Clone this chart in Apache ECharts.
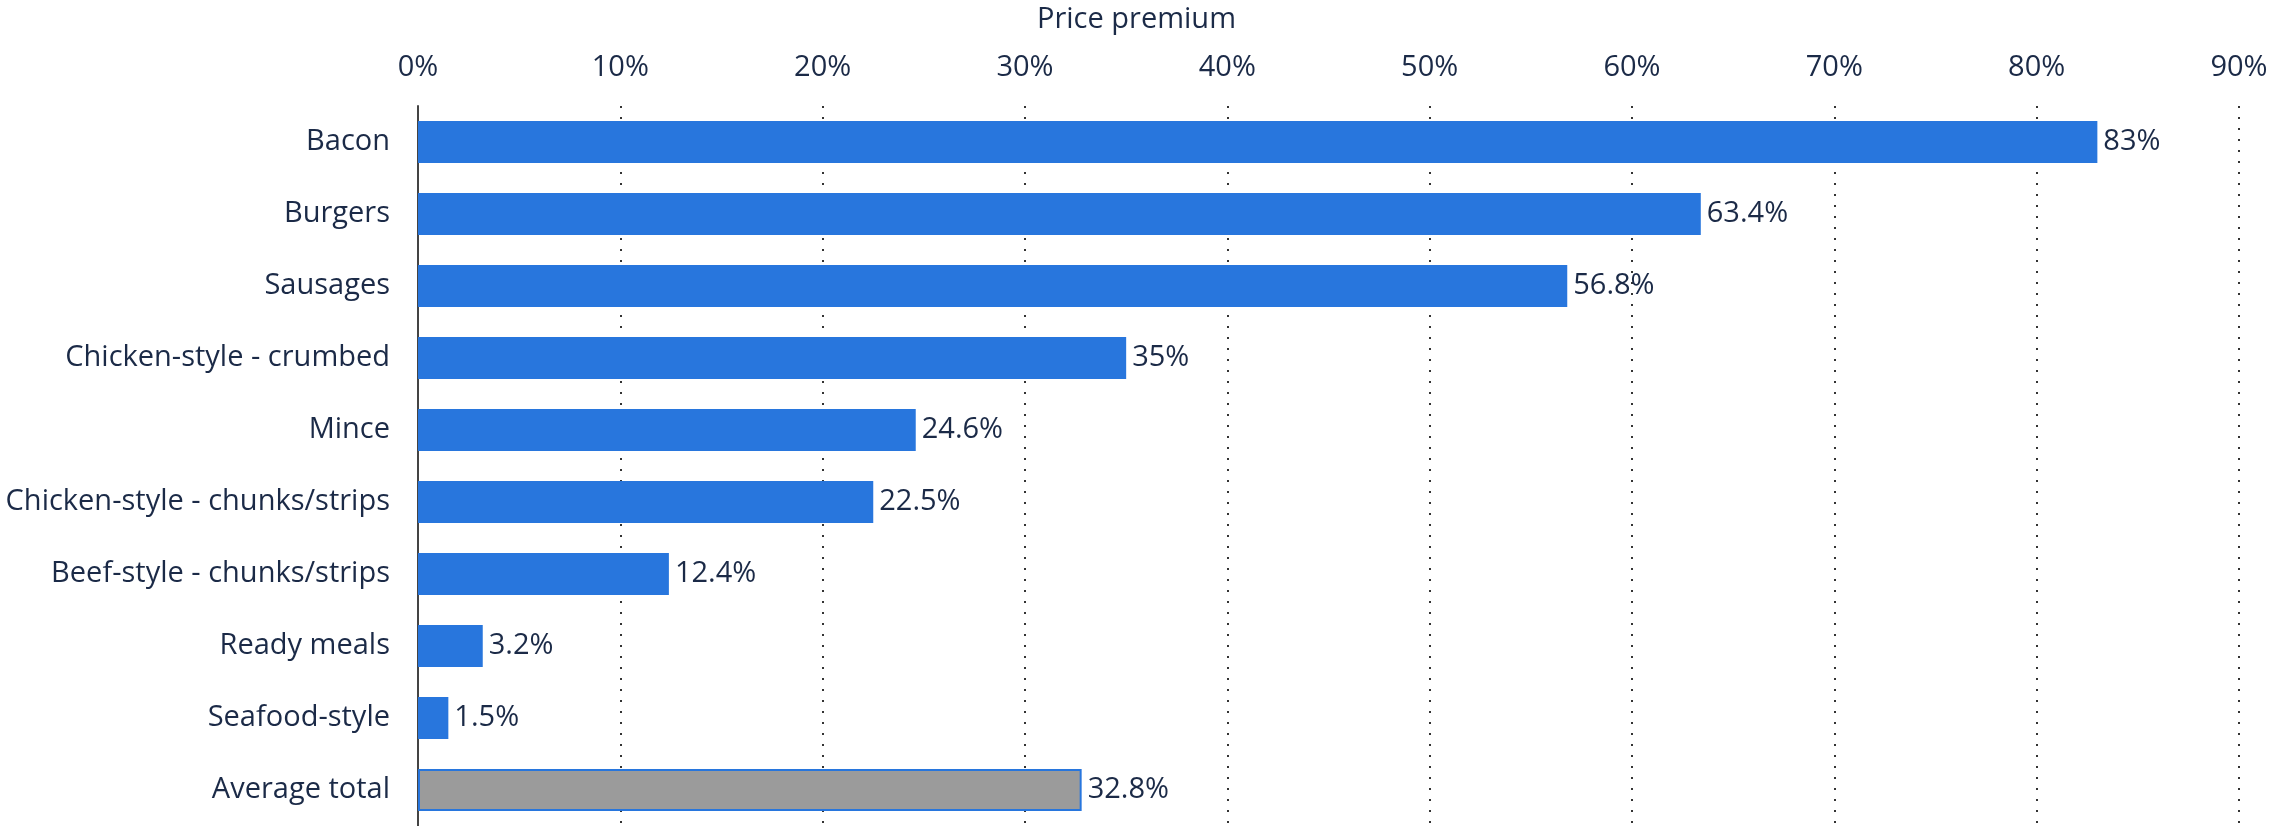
<!DOCTYPE html>
<html><head><meta charset="utf-8">
<script src="https://cdn.jsdelivr.net/npm/echarts@6/dist/echarts.min.js"></script>
<style>html,body{margin:0;padding:0;background:#fff}#c{width:2273px;height:826px}</style>
</head><body><div id="c"></div>
<script>
const categories = ["Bacon","Burgers","Sausages","Chicken-style - crumbed","Mince","Chicken-style - chunks/strips","Beef-style - chunks/strips","Ready meals","Seafood-style","Average total"];
const values = [83, 63.4, 56.8, 35, 24.6, 22.5, 12.4, 3.2, 1.5, 32.8];
const axisTitle = "Price premium";
const highlightCategory = "Average total";

const TXT = '#1b2a47';
const BLUE = '#2876dd';
const FS = 29;
const chart = echarts.init(document.getElementById('c'));
chart.setOption({
  animation: false,
  textStyle: {fontFamily: 'Open Sans'},
  title: {text: axisTitle, left: 'center', top: 0, textStyle: {fontFamily:'Open Sans', fontSize: FS, fontWeight: 'normal', color: TXT}},
  grid: {left: 418, top: 106, width: 1821, height: 726, containLabel: false},
  xAxis: {
    type: 'value', position: 'top', min: 0, max: 90, interval: 10,
    axisLine: {show: false}, axisTick: {show: false},
    axisLabel: {formatter: '{value}%', fontSize: FS, color: TXT, margin: 24, fontFamily:'Open Sans'},
    splitLine: {show: true, lineStyle: {color: '#333', type: [2, 9], width: 2}}
  },
  yAxis: {
    type: 'category', data: categories, inverse: true,
    axisLine: {show: true, lineStyle: {color: '#444', width: 2}}, axisTick: {show: false},
    axisLabel: {fontSize: FS, color: TXT, margin: 28, fontFamily:'Open Sans'}
  },
  series: [{
    type: 'bar', barCategoryGap: '42%',
    data: values.map((v, i) => categories[i] === highlightCategory
      ? {value: v, itemStyle: {color: '#9b9b9b', borderColor: BLUE, borderWidth: 2}}
      : {value: v, itemStyle: {color: BLUE}}),
    label: {show: true, position: 'right', distance: 6, formatter: p => p.value + '%', fontSize: FS, color: TXT, fontFamily:'Open Sans'}
  }]
});
</script></body></html>
